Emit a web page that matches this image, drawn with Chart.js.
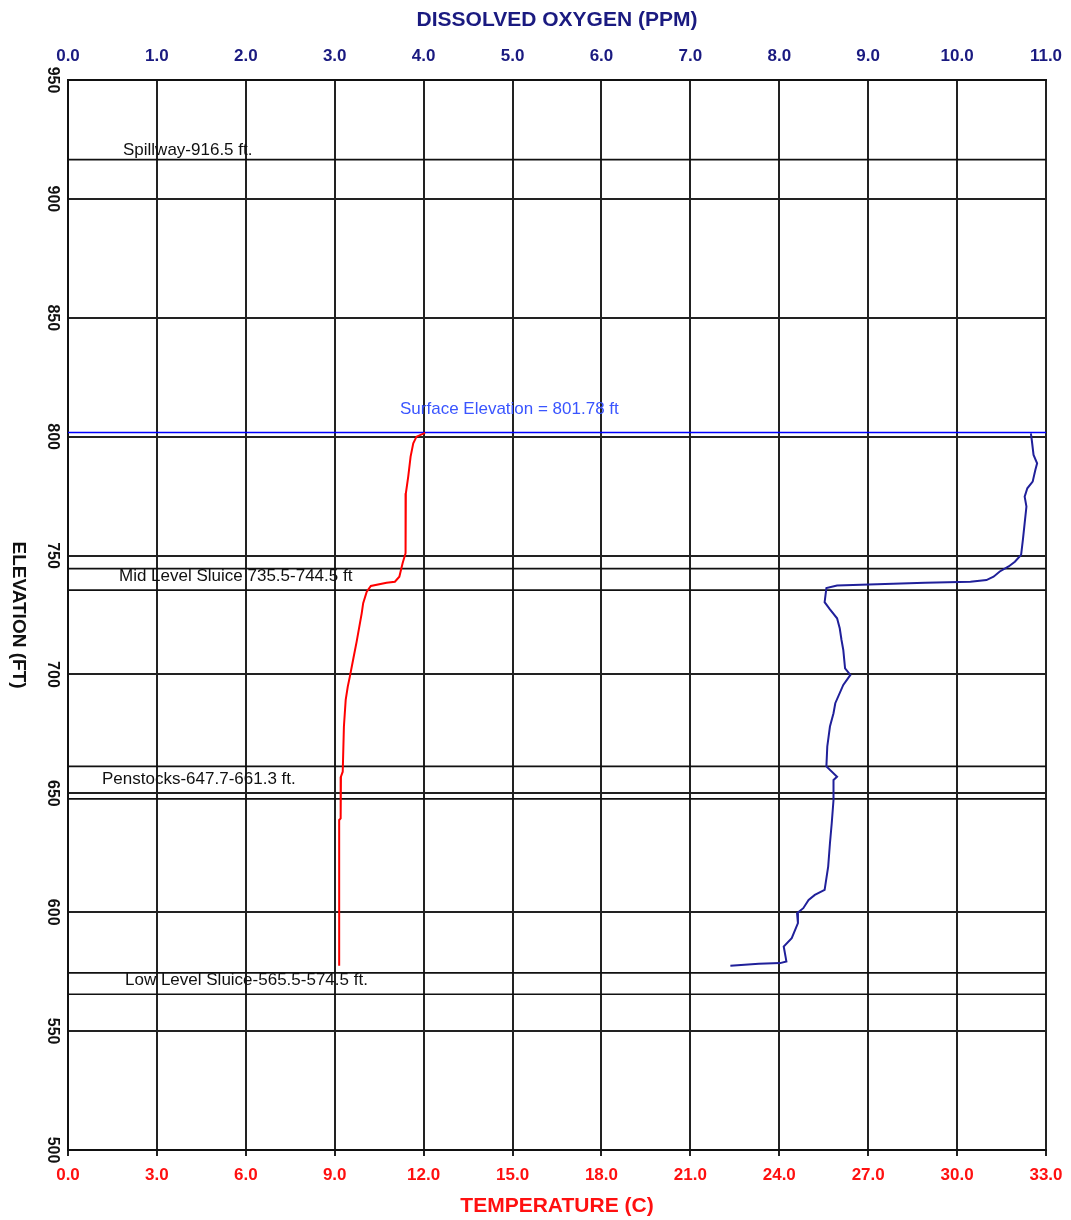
<!DOCTYPE html>
<html lang="en">
<head>
<meta charset="UTF-8">
<title>Reservoir profile</title>
<style>
    html, body { margin: 0; padding: 0; background: #fff; }
</style>
</head>
<body>
<script src="https://cdn.jsdelivr.net/npm/chart.js"></script>
<canvas id="profile" width="1071" height="1220"></canvas>
<script>
// temperature profile (deg C) against elevation (ft)
const tempElev = [801.6, 800.0, 797.2, 791.6, 783.2, 776.2, 751.0, 746.8, 741.1, 739.0, 738.6, 737.2,
    734.8, 730.0, 725.7, 720.1, 713.8, 706.8, 699.1, 694.9, 689.3, 678.1, 659.1, 657.0, 639.5, 638.8, 577.5];
const tempC = [12.05, 11.76, 11.65, 11.56, 11.48, 11.40, 11.39, 11.29, 11.18, 11.03, 10.75, 10.22,
    10.08, 9.96, 9.91, 9.83, 9.74, 9.63, 9.51, 9.44, 9.37, 9.31, 9.27, 9.21, 9.20, 9.15, 9.15];

// dissolved oxygen profile (ppm) against elevation (ft)
const doElev = [801.4, 798.6, 792.3, 788.8, 786.0, 781.1, 778.3, 774.8, 770.6, 763.6, 756.6, 750.3,
    747.4, 745.4, 743.3, 741.1, 739.7, 739.0, 738.6, 737.9, 737.4, 736.3, 730.4, 727.4, 723.6, 719.4,
    714.5, 710.3, 702.6, 699.8, 695.6, 687.9, 683.7, 678.1, 669.7, 661.3, 657.0, 655.6, 647.2, 637.4,
    629.0, 619.2, 609.4, 607.3, 605.2, 601.7, 599.6, 595.4, 589.1, 585.6, 581.4, 579.3, 578.6, 578.3, 577.5];
const doPpm = [10.83, 10.84, 10.86, 10.90, 10.88, 10.85, 10.79, 10.76, 10.78, 10.76, 10.74, 10.72,
    10.65, 10.58, 10.48, 10.41, 10.33, 10.15, 9.64, 9.10, 8.65, 8.53, 8.51, 8.57, 8.65, 8.68,
    8.70, 8.72, 8.74, 8.80, 8.72, 8.63, 8.61, 8.57, 8.54, 8.53, 8.65, 8.61, 8.61, 8.59,
    8.57, 8.55, 8.51, 8.40, 8.33, 8.27, 8.20, 8.21, 8.14, 8.05, 8.07, 8.08, 8.01, 7.77, 7.45];

// dam structures
const markerNames = ['Spillway-916.5 ft.', 'Mid Level Sluice 735.5-744.5 ft', 'Penstocks-647.7-661.3 ft.', 'Low Level Sluice-565.5-574.5 ft.'];
const markerElev = [[916.5], [735.5, 744.5], [647.7, 661.3], [565.5, 574.5]];
const surfaceElev = 801.78;
const surfaceText = 'Surface Elevation = 801.78 ft';

// axes
const doRange = [0, 11, 1];
const tempRange = [0, 33, 3];
const elevRange = [500, 950, 50];

const FONT = '"Liberation Sans", Arial, sans-serif';
const NAVY = '#1a1a80';
const RED = '#ff1010';
const GRID = '#222';

Chart.defaults.font.family = FONT;

function toPoints(xs, ys) {
    return xs.map((x, i) => ({ x: x, y: ys[i] }));
}

let datasets = [
    {
        label: 'Temperature',
        data: toPoints(tempC, tempElev),
        xAxisID: 'xT',
        borderColor: '#ff0000',
        borderWidth: 2,
        pointRadius: 0,
        showLine: true
    },
    {
        label: 'Dissolved oxygen',
        data: toPoints(doPpm, doElev),
        xAxisID: 'xDO',
        borderColor: '#20209a',
        borderWidth: 2,
        pointRadius: 0,
        showLine: true
    },
    {
        label: 'Surface',
        data: [{ x: doRange[0], y: surfaceElev }, { x: doRange[1], y: surfaceElev }],
        xAxisID: 'xDO',
        borderColor: '#0000ff',
        borderWidth: 1.5,
        pointRadius: 0,
        showLine: true
    }
];

markerElev.forEach(list => {
    list.forEach(e => {
        datasets.push({
            label: 'marker',
            data: [{ x: doRange[0], y: e }, { x: doRange[1], y: e }],
            xAxisID: 'xDO',
            borderColor: '#111',
            borderWidth: 1.7,
            pointRadius: 0,
            showLine: true
        });
    });
});

// rotated elevation labels, axis title and structure notes
const annotate = {
    id: 'annotate',
    afterDraw(chart) {
        const { ctx, chartArea, scales } = chart;
        const y = scales.y;
        ctx.save();

        ctx.fillStyle = '#111';
        ctx.textAlign = 'center';
        ctx.textBaseline = 'middle';
        ctx.font = 'bold 16px ' + FONT;
        y.ticks.forEach(t => {
            ctx.save();
            ctx.translate(52, y.getPixelForValue(t.value));
            ctx.rotate(Math.PI / 2);
            ctx.fillText(String(t.value), 0, 0);
            ctx.restore();
        });

        ctx.font = 'bold 19px ' + FONT;
        ctx.save();
        ctx.translate(18, (chartArea.top + chartArea.bottom) / 2);
        ctx.rotate(Math.PI / 2);
        ctx.fillText('ELEVATION (FT)', 0, 0);
        ctx.restore();

        ctx.font = '17px ' + FONT;
        ctx.textAlign = 'left';
        const offsets = [55, 51, 34, 57];
        markerElev.forEach((list, i) => {
            let py;
            if (list.length === 1) {
                py = y.getPixelForValue(list[0]) - 9;
            } else {
                py = (y.getPixelForValue(list[0]) + y.getPixelForValue(list[1])) / 2 - 3;
            }
            ctx.fillStyle = '#111';
            ctx.fillText(markerNames[i], chartArea.left + offsets[i], py);
        });

        ctx.fillStyle = '#3a55ff';
        ctx.fillText(surfaceText, chartArea.left + 332, y.getPixelForValue(surfaceElev) - 23);

        ctx.restore();
    }
};

const ctx = document.getElementById('profile').getContext('2d');
new Chart(ctx, {
    type: 'scatter',
    data: { datasets: datasets },
    options: {
        responsive: false,
        animation: false,
        devicePixelRatio: 1,
        layout: { padding: { left: 0, right: 25, top: 0, bottom: 0 } },
        plugins: { legend: { display: false }, tooltip: { enabled: false } },
        scales: {
            xDO: {
                type: 'linear',
                position: 'top',
                min: doRange[0],
                max: doRange[1],
                ticks: {
                    stepSize: doRange[2],
                    color: NAVY,
                    padding: 13,
                    font: { size: 17, weight: 'bold' },
                    callback: v => v.toFixed(1)
                },
                grid: { color: GRID, lineWidth: 2, drawTicks: false },
                border: { color: '#111', width: 2 },
                title: {
                    display: true,
                    text: 'DISSOLVED OXYGEN (PPM)',
                    color: NAVY,
                    font: { size: 21, weight: 'bold' },
                    padding: { top: 8, bottom: 0 }
                },
                afterFit: s => { s.height = 80; s.paddingLeft = 0; s.paddingRight = 0; }
            },
            xT: {
                type: 'linear',
                position: 'bottom',
                min: tempRange[0],
                max: tempRange[1],
                ticks: {
                    stepSize: tempRange[2],
                    color: RED,
                    padding: 9,
                    font: { size: 17, weight: 'bold' },
                    callback: v => v.toFixed(1)
                },
                grid: { drawOnChartArea: false, color: GRID, lineWidth: 2, tickLength: 6 },
                border: { color: '#111', width: 2 },
                title: {
                    display: true,
                    text: 'TEMPERATURE (C)',
                    color: RED,
                    font: { size: 21, weight: 'bold' },
                    padding: { top: 0, bottom: 1 }
                },
                afterFit: s => { s.height = 70; s.paddingLeft = 0; s.paddingRight = 0; }
            },
            y: {
                type: 'linear',
                position: 'left',
                min: elevRange[0],
                max: elevRange[1],
                ticks: { stepSize: elevRange[2], display: false },
                grid: { color: GRID, lineWidth: 2, drawTicks: false },
                border: { color: '#111', width: 2 },
                afterFit: s => { s.width = 68; s.paddingTop = 0; s.paddingBottom = 0; }
            }
        }
    },
    plugins: [annotate]
});
</script>
</body>
</html>
